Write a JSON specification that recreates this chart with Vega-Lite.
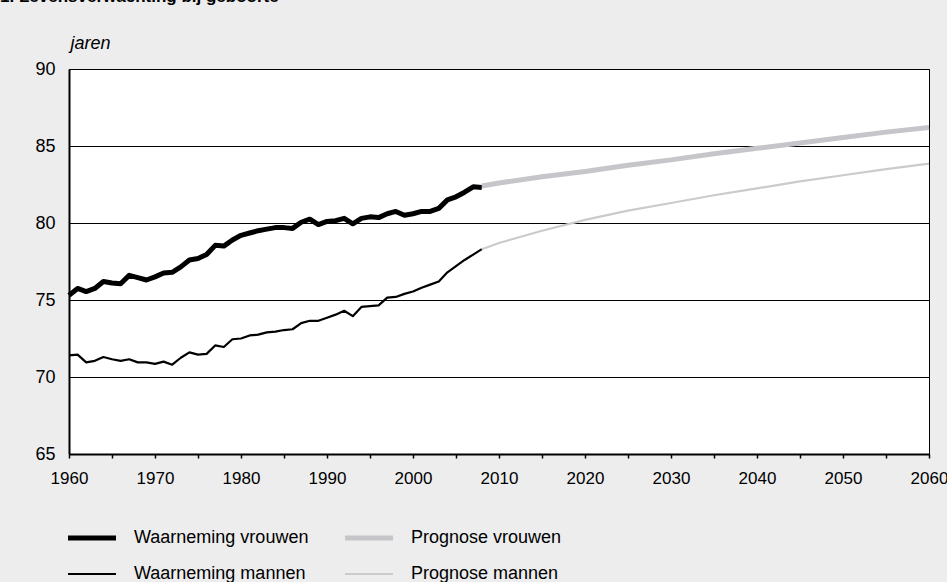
{
  "$schema": "https://vega.github.io/schema/vega-lite/v6.json",
  "width": 860,
  "height": 385,
  "autosize": {"type": "none"},
  "padding": {"left": 69, "top": 69, "right": 18, "bottom": 128},
  "background": "#ededee",
  "title": {"text": "1. Levensverwachting bij geboorte", "anchor": "start", "frame": "group", "dx": -69, "offset": 28, "fontSize": 17, "fontWeight": "bold", "color": "#000"},
  "config": {"font": "Liberation Sans", "view": {"stroke": "#000", "strokeWidth": 1, "fill": "white"}},
  "datasets": {
    "d": [
      {"year":1960,"value":75.3,"series":"Waarneming vrouwen"},
      {"year":1961,"value":75.75,"series":"Waarneming vrouwen"},
      {"year":1962,"value":75.55,"series":"Waarneming vrouwen"},
      {"year":1963,"value":75.75,"series":"Waarneming vrouwen"},
      {"year":1964,"value":76.2,"series":"Waarneming vrouwen"},
      {"year":1965,"value":76.1,"series":"Waarneming vrouwen"},
      {"year":1966,"value":76.05,"series":"Waarneming vrouwen"},
      {"year":1967,"value":76.6,"series":"Waarneming vrouwen"},
      {"year":1968,"value":76.45,"series":"Waarneming vrouwen"},
      {"year":1969,"value":76.3,"series":"Waarneming vrouwen"},
      {"year":1970,"value":76.5,"series":"Waarneming vrouwen"},
      {"year":1971,"value":76.75,"series":"Waarneming vrouwen"},
      {"year":1972,"value":76.8,"series":"Waarneming vrouwen"},
      {"year":1973,"value":77.15,"series":"Waarneming vrouwen"},
      {"year":1974,"value":77.6,"series":"Waarneming vrouwen"},
      {"year":1975,"value":77.7,"series":"Waarneming vrouwen"},
      {"year":1976,"value":77.95,"series":"Waarneming vrouwen"},
      {"year":1977,"value":78.55,"series":"Waarneming vrouwen"},
      {"year":1978,"value":78.5,"series":"Waarneming vrouwen"},
      {"year":1979,"value":78.9,"series":"Waarneming vrouwen"},
      {"year":1980,"value":79.2,"series":"Waarneming vrouwen"},
      {"year":1981,"value":79.35,"series":"Waarneming vrouwen"},
      {"year":1982,"value":79.5,"series":"Waarneming vrouwen"},
      {"year":1983,"value":79.6,"series":"Waarneming vrouwen"},
      {"year":1984,"value":79.7,"series":"Waarneming vrouwen"},
      {"year":1985,"value":79.7,"series":"Waarneming vrouwen"},
      {"year":1986,"value":79.65,"series":"Waarneming vrouwen"},
      {"year":1987,"value":80.05,"series":"Waarneming vrouwen"},
      {"year":1988,"value":80.25,"series":"Waarneming vrouwen"},
      {"year":1989,"value":79.9,"series":"Waarneming vrouwen"},
      {"year":1990,"value":80.1,"series":"Waarneming vrouwen"},
      {"year":1991,"value":80.15,"series":"Waarneming vrouwen"},
      {"year":1992,"value":80.3,"series":"Waarneming vrouwen"},
      {"year":1993,"value":79.95,"series":"Waarneming vrouwen"},
      {"year":1994,"value":80.3,"series":"Waarneming vrouwen"},
      {"year":1995,"value":80.4,"series":"Waarneming vrouwen"},
      {"year":1996,"value":80.35,"series":"Waarneming vrouwen"},
      {"year":1997,"value":80.6,"series":"Waarneming vrouwen"},
      {"year":1998,"value":80.75,"series":"Waarneming vrouwen"},
      {"year":1999,"value":80.5,"series":"Waarneming vrouwen"},
      {"year":2000,"value":80.6,"series":"Waarneming vrouwen"},
      {"year":2001,"value":80.75,"series":"Waarneming vrouwen"},
      {"year":2002,"value":80.75,"series":"Waarneming vrouwen"},
      {"year":2003,"value":80.95,"series":"Waarneming vrouwen"},
      {"year":2004,"value":81.5,"series":"Waarneming vrouwen"},
      {"year":2005,"value":81.7,"series":"Waarneming vrouwen"},
      {"year":2006,"value":82.0,"series":"Waarneming vrouwen"},
      {"year":2007,"value":82.35,"series":"Waarneming vrouwen"},
      {"year":2008,"value":82.3,"series":"Waarneming vrouwen"},
      {"year":1960,"value":71.4,"series":"Waarneming mannen"},
      {"year":1961,"value":71.45,"series":"Waarneming mannen"},
      {"year":1962,"value":70.95,"series":"Waarneming mannen"},
      {"year":1963,"value":71.05,"series":"Waarneming mannen"},
      {"year":1964,"value":71.3,"series":"Waarneming mannen"},
      {"year":1965,"value":71.15,"series":"Waarneming mannen"},
      {"year":1966,"value":71.05,"series":"Waarneming mannen"},
      {"year":1967,"value":71.15,"series":"Waarneming mannen"},
      {"year":1968,"value":70.95,"series":"Waarneming mannen"},
      {"year":1969,"value":70.95,"series":"Waarneming mannen"},
      {"year":1970,"value":70.85,"series":"Waarneming mannen"},
      {"year":1971,"value":71.0,"series":"Waarneming mannen"},
      {"year":1972,"value":70.8,"series":"Waarneming mannen"},
      {"year":1973,"value":71.25,"series":"Waarneming mannen"},
      {"year":1974,"value":71.6,"series":"Waarneming mannen"},
      {"year":1975,"value":71.45,"series":"Waarneming mannen"},
      {"year":1976,"value":71.5,"series":"Waarneming mannen"},
      {"year":1977,"value":72.05,"series":"Waarneming mannen"},
      {"year":1978,"value":71.95,"series":"Waarneming mannen"},
      {"year":1979,"value":72.45,"series":"Waarneming mannen"},
      {"year":1980,"value":72.5,"series":"Waarneming mannen"},
      {"year":1981,"value":72.7,"series":"Waarneming mannen"},
      {"year":1982,"value":72.75,"series":"Waarneming mannen"},
      {"year":1983,"value":72.9,"series":"Waarneming mannen"},
      {"year":1984,"value":72.95,"series":"Waarneming mannen"},
      {"year":1985,"value":73.05,"series":"Waarneming mannen"},
      {"year":1986,"value":73.1,"series":"Waarneming mannen"},
      {"year":1987,"value":73.5,"series":"Waarneming mannen"},
      {"year":1988,"value":73.65,"series":"Waarneming mannen"},
      {"year":1989,"value":73.65,"series":"Waarneming mannen"},
      {"year":1990,"value":73.85,"series":"Waarneming mannen"},
      {"year":1991,"value":74.05,"series":"Waarneming mannen"},
      {"year":1992,"value":74.3,"series":"Waarneming mannen"},
      {"year":1993,"value":73.95,"series":"Waarneming mannen"},
      {"year":1994,"value":74.55,"series":"Waarneming mannen"},
      {"year":1995,"value":74.6,"series":"Waarneming mannen"},
      {"year":1996,"value":74.65,"series":"Waarneming mannen"},
      {"year":1997,"value":75.15,"series":"Waarneming mannen"},
      {"year":1998,"value":75.2,"series":"Waarneming mannen"},
      {"year":1999,"value":75.4,"series":"Waarneming mannen"},
      {"year":2000,"value":75.55,"series":"Waarneming mannen"},
      {"year":2001,"value":75.8,"series":"Waarneming mannen"},
      {"year":2002,"value":76.0,"series":"Waarneming mannen"},
      {"year":2003,"value":76.2,"series":"Waarneming mannen"},
      {"year":2004,"value":76.8,"series":"Waarneming mannen"},
      {"year":2005,"value":77.2,"series":"Waarneming mannen"},
      {"year":2006,"value":77.6,"series":"Waarneming mannen"},
      {"year":2007,"value":77.95,"series":"Waarneming mannen"},
      {"year":2008,"value":78.3,"series":"Waarneming mannen"},
      {"year":2008,"value":82.4,"series":"Prognose vrouwen"},
      {"year":2010,"value":82.6,"series":"Prognose vrouwen"},
      {"year":2015,"value":83.0,"series":"Prognose vrouwen"},
      {"year":2020,"value":83.35,"series":"Prognose vrouwen"},
      {"year":2025,"value":83.75,"series":"Prognose vrouwen"},
      {"year":2030,"value":84.1,"series":"Prognose vrouwen"},
      {"year":2035,"value":84.5,"series":"Prognose vrouwen"},
      {"year":2040,"value":84.85,"series":"Prognose vrouwen"},
      {"year":2045,"value":85.2,"series":"Prognose vrouwen"},
      {"year":2050,"value":85.55,"series":"Prognose vrouwen"},
      {"year":2055,"value":85.9,"series":"Prognose vrouwen"},
      {"year":2060,"value":86.2,"series":"Prognose vrouwen"},
      {"year":2008,"value":78.3,"series":"Prognose mannen"},
      {"year":2010,"value":78.7,"series":"Prognose mannen"},
      {"year":2015,"value":79.5,"series":"Prognose mannen"},
      {"year":2020,"value":80.2,"series":"Prognose mannen"},
      {"year":2025,"value":80.8,"series":"Prognose mannen"},
      {"year":2030,"value":81.3,"series":"Prognose mannen"},
      {"year":2035,"value":81.8,"series":"Prognose mannen"},
      {"year":2040,"value":82.25,"series":"Prognose mannen"},
      {"year":2045,"value":82.7,"series":"Prognose mannen"},
      {"year":2050,"value":83.1,"series":"Prognose mannen"},
      {"year":2055,"value":83.5,"series":"Prognose mannen"},
      {"year":2060,"value":83.85,"series":"Prognose mannen"}
    ]
  },
  "data": {"name": "d"},
  "encoding": {
    "x": {"field": "year", "type": "quantitative",
      "scale": {"domain": [1960, 2060], "nice": false, "zero": false},
      "axis": {"values": [1960,1965,1970,1975,1980,1985,1990,1995,2000,2005,2010,2015,2020,2025,2030,2035,2040,2045,2050,2055,2060],
        "format": "d", "labelExpr": "datum.value % 10 === 0 ? datum.label : ''", "labelOverlap": false, "labelFlush": false,
        "grid": false, "title": null, "domainColor": "#000", "domainWidth": 2, "tickColor": "#000", "tickSize": 4, "tickWidth": 1.5,
        "labelFontSize": 17, "labelColor": "#000", "labelPadding": 12, "labelDx": -5}},
    "y": {"field": "value", "type": "quantitative",
      "scale": {"domain": [65, 90], "nice": false, "zero": false},
      "axis": {"values": [65,70,75,80,85,90], "grid": true, "gridColor": "#000", "gridWidth": 1, "gridOpacity": 1,
        "ticks": false, "domainColor": "#000", "domainWidth": 2, "labelFontSize": 18, "labelPadding": 14, "labelColor": "#000",
        "title": "jaren", "titleAngle": 0, "titleAlign": "left", "titleBaseline": "alphabetic", "titleX": 1, "titleY": -21,
        "titleFontStyle": "italic", "titleFontWeight": "normal", "titleFontSize": 18, "titleColor": "#000"}},
    "color": {"field": "series", "type": "nominal",
      "scale": {"domain": ["Waarneming vrouwen", "Prognose vrouwen", "Waarneming mannen", "Prognose mannen"],
        "range": ["#000000", "#c6c6ca", "#000000", "#cbcbcd"]},
      "legend": {"orient": "none", "legendX": 14, "legendY": 460, "direction": "horizontal", "columns": 2, "title": null,
        "symbolType": "stroke", "symbolSize": 2304, "labelFontSize": 18, "labelColor": "#000", "labelOffset": 33, "labelLimit": 400,
        "columnPadding": 26, "rowPadding": 17, "padding": 0, "gridAlign": "all",
        "encode": {"symbols": {"update": {"strokeWidth": {"signal": "test(/vrouwen/, datum.value) ? 5 : 2.2"}}}}}}
  },
  "layer": [
    {"transform": [{"filter": {"field": "series", "oneOf": ["Waarneming mannen", "Prognose mannen"]}}],
     "mark": {"type": "line", "strokeWidth": 2.2, "strokeJoin": "round"}},
    {"transform": [{"filter": {"field": "series", "oneOf": ["Waarneming vrouwen", "Prognose vrouwen"]}}],
     "mark": {"type": "line", "strokeWidth": 5, "strokeJoin": "round"}}
  ]
}
